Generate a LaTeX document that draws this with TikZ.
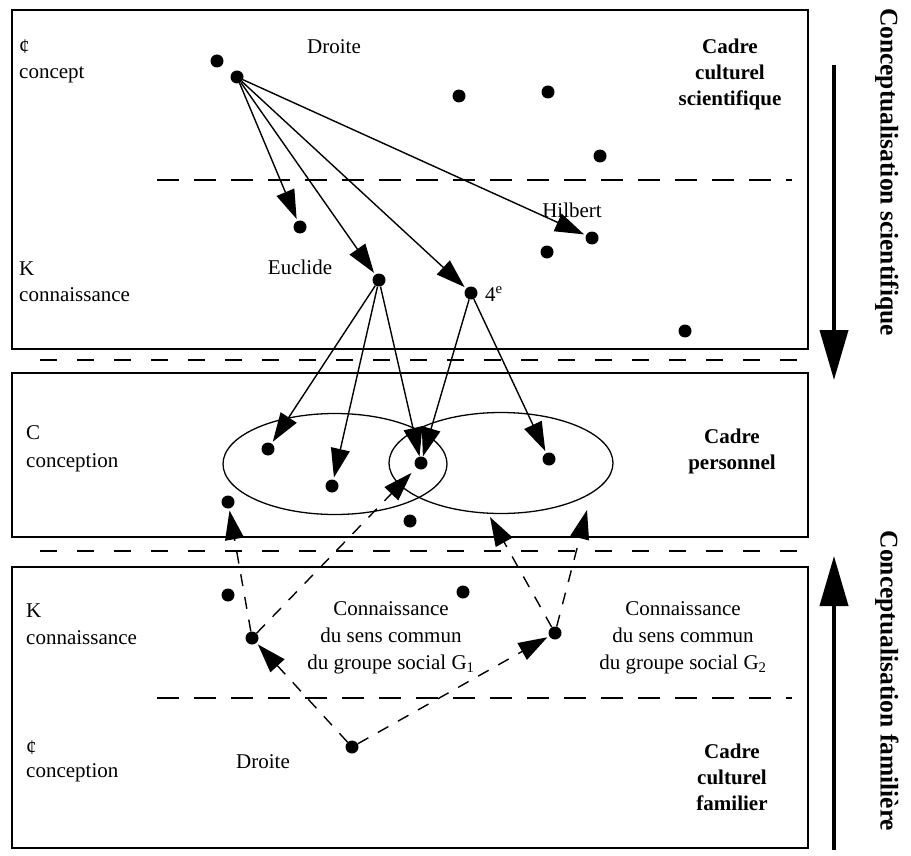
\documentclass[tikz,border=0pt]{standalone}
\usepackage{fontspec}
\setmainfont{Liberation Serif}
\usetikzlibrary{arrows.meta,shapes.geometric}
\begin{document}
\begin{tikzpicture}[x=1pt,y=-1pt,
  dot/.style={circle,fill=black,inner sep=0pt,minimum size=13pt},
  lbl/.style={font=\fontsize{21}{27}\selectfont,inner sep=0pt,align=center},
  lleft/.style={lbl,anchor=west},
  bold/.style={font=\bfseries\fontsize{21}{26}\selectfont,inner sep=0pt,align=center},
  vtext/.style={font=\bfseries\fontsize{25.5}{30}\selectfont,inner sep=0pt,rotate=-90},
  frame/.style={line width=1.4pt},
  sep/.style={line width=1.1pt,dash pattern=on 17pt off 20pt},
  inner/.style={line width=1.1pt,dash pattern=on 22pt off 15pt},
  arr/.style={line width=1.4pt,-{Triangle[length=29pt,width=19pt]},shorten >=2pt},
  darr/.style={line width=1.4pt,dash pattern=on 12pt off 11pt,-{Triangle[length=29pt,width=19pt]},shorten >=2pt},
  bigarr/.style={line width=4pt,-{Triangle[length=50pt,width=28pt]}},
  oval/.style={draw,ellipse,line width=1.3pt,minimum width=224pt,minimum height=101pt,inner sep=0pt}
]
\useasboundingbox (0,0) rectangle (911,856);
% frames
\draw[frame] (12,10) rectangle (808,349);
\draw[frame] (12,373) rectangle (808,537);
\draw[frame] (12,567) rectangle (808,848);
\draw[sep] (40,360) -- (808,360);
\draw[sep] (40,551) -- (808,551);
\draw[inner] (157,180) -- (792,180);
\draw[inner] (157,698) -- (792,698);
% ellipses
\node[oval] (e1) at (335,464) {};
\node[oval] (e2) at (501,463) {};
% left labels
\node[lleft] (s1) at (19,47) {¢};
\node[lleft] (s2) at (19,75) {concept};
\node[lleft] (s3) at (19,269) {K};
\node[lleft] (s4) at (19,295) {connaissance};
\node[lleft] (s5) at (26,433) {C};
\node[lleft] (s6) at (26,463) {conception};
\node[lleft] (s7) at (26,611) {K};
\node[lleft] (s8) at (26,638) {connaissance};
\node[lleft] (s9) at (26,748) {¢};
\node[lleft] (s10) at (26,773) {conception};
% right labels
\node[bold] (c1) at (730,74) {Cadre\\culturel\\scientifique};
\node[bold] (c2) at (732,451) {Cadre\\personnel};
\node[bold] (c3) at (732,777) {Cadre\\culturel\\familier};
% other labels
\node[lbl] (w1) at (334,47) {Droite};
\node[lbl] (w2) at (300,267) {Euclide};
\node[lbl] (w3) at (572,210) {Hilbert};
\node[lleft] (w4) at (485,294) {4\textsuperscript{e}};
\node[lbl] (w5) at (263,762) {Droite};
\node[lbl] (g1t) at (391,638) {Connaissance\\du sens commun\\du groupe social G\textsubscript{1}};
\node[lbl] (g2t) at (683,638) {Connaissance\\du sens commun\\du groupe social G\textsubscript{2}};
% vertical texts and arrows
\node[vtext] (v1) at (887,172) {Conceptualisation scientifique};
\node[vtext] (v2) at (887,681) {Conceptualisation familière};
\coordinate (a1s) at (834,65);
\coordinate (a1e) at (834,380);
\coordinate (a2s) at (834,850);
\coordinate (a2e) at (834,556);
\draw[bigarr] (a1s) -- (a1e);
\draw[bigarr] (a2s) -- (a2e);
% dots top
\node[dot] (t1) at (217,61) {};
\node[dot] (t2) at (237,77) {};
\node[dot] (t3) at (459,96) {};
\node[dot] (t4) at (548,92) {};
\node[dot] (t5) at (600,156) {};
\node[dot] (t6) at (300,227) {};
\node[dot] (eu) at (379,280) {};
\node[dot] (q4) at (471,293) {};
\node[dot] (t9) at (547,252) {};
\node[dot] (hi) at (592,238) {};
\node[dot] (t11) at (685,331) {};
% dots middle
\node[dot] (m1) at (268,449) {};
\node[dot] (m2) at (332,486) {};
\node[dot] (mc) at (421,463) {};
\node[dot] (m4) at (549,459) {};
\node[dot] (m5) at (228,502) {};
\node[dot] (m6) at (410,521) {};
% dots low
\node[dot] (l1) at (228,595) {};
\node[dot] (g1) at (252,638) {};
\node[dot] (l3) at (463,592) {};
\node[dot] (g2) at (555,633) {};
\node[dot] (dr) at (352,747) {};
% solid arrows
\draw[arr] (t2) -- (t6);
\draw[arr] (t2) -- (eu);
\draw[arr] (t2) -- (q4);
\draw[arr] (t2) -- (hi);
\draw[arr] (eu) -- (m1);
\draw[arr] (eu) -- (m2);
\draw[arr,shorten >=0pt] (eu) -- (mc);
\draw[arr,shorten >=0pt] (q4) -- (mc);
\draw[arr] (q4) -- (m4);
% dashed arrows
\coordinate (b1) at (490,517);
\coordinate (b2) at (587,510);
\draw[darr] (dr) -- (g1);
\draw[darr] (dr) -- (g2);
\draw[darr] (g1) -- (m5);
\draw[darr,shorten >=7pt] (g1) -- (mc);
\draw[darr,shorten >=0pt] (g2) -- (b1);
\draw[darr,shorten >=0pt] (g2) -- (b2);
\end{tikzpicture}
\end{document}
